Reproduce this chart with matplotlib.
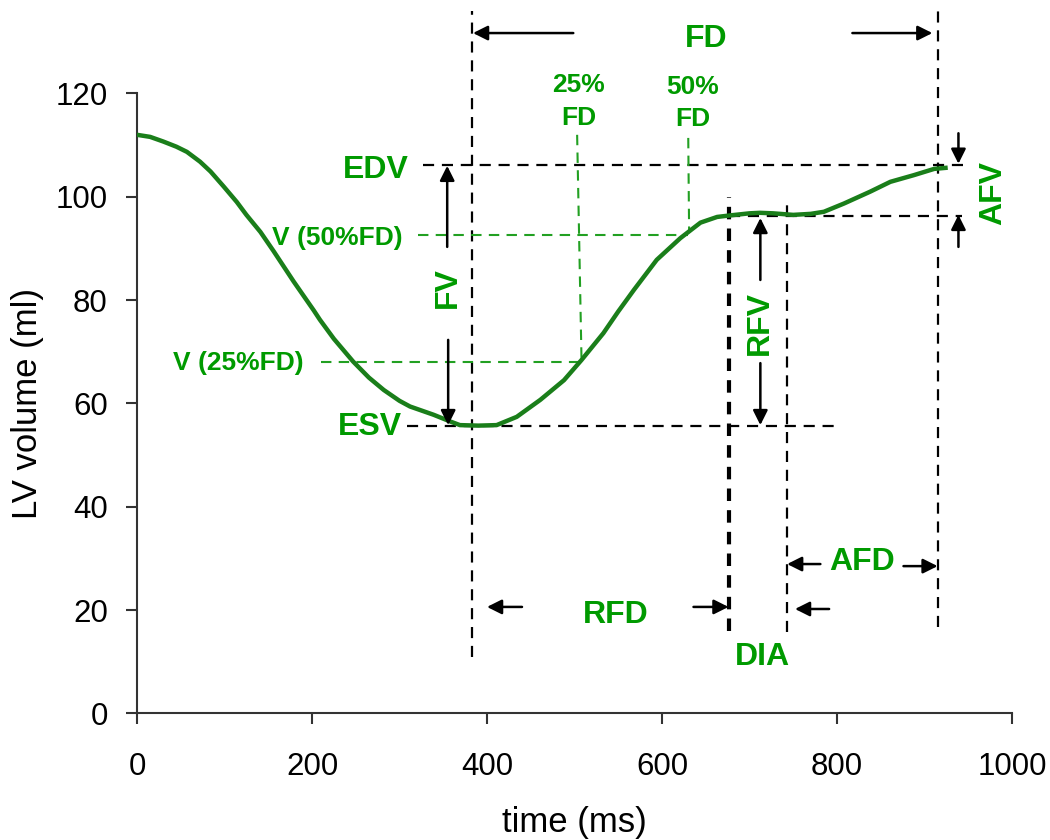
import numpy as np
import matplotlib
matplotlib.use("Agg")
import matplotlib.pyplot as plt

plt.rcParams['font.family'] = ['Liberation Sans', 'DejaVu Sans']

# LV volume curve
t_ms = [0, 15, 30, 45, 57, 72, 84, 99, 114, 125, 141, 156, 179, 202, 209,
        225, 247, 265, 282, 300, 312, 339, 358, 369, 390, 411, 434, 461, 488,
        508, 533, 550, 568, 594, 621, 644, 663, 678, 700, 712, 727, 750, 770,
        785, 808, 838, 861, 888, 911, 924]
lv_ml = [112.0, 111.6, 110.7, 109.7, 108.7, 106.8, 104.9, 102.0, 99.0, 96.5,
         93.2, 89.5, 83.6, 78.0, 76.2, 72.5, 68.1, 65.0, 62.6, 60.5, 59.4,
         57.8, 56.5, 55.8, 55.7, 55.8, 57.4, 60.7, 64.5, 68.4, 73.6, 77.8,
         82.0, 87.8, 92.0, 95.0, 96.1, 96.4, 96.8, 96.9, 96.8, 96.5, 96.7,
         97.1, 98.7, 101.0, 102.9, 104.2, 105.4, 105.6]

# key points of the filling phase
t_fd0, t_fd1 = 383, 915
t_rfd1, t_dia1 = 676, 743
t_25, t_50 = 505, 630
edv, esv, v_plat = 106.2, 55.6, 96.3
v_25, v_50 = 68.1, 92.6

green_txt = '#009a00'
green_line = '#1a7e1a'
green_dash = '#22a022'

fig = plt.figure(figsize=(10.5, 8.4), dpi=100)
ax = fig.add_axes([0.1305, 0.1508, 0.8333, 0.7379])
ax.plot(t_ms, lv_ml, color=green_line, lw=3.2, zorder=5)
ax.set_xlim(0, 1000)
ax.set_ylim(0, 120)
ax.set_xticks(range(0, 1001, 200))
ax.set_yticks(range(0, 121, 20))
for s in ['top', 'right']:
    ax.spines[s].set_visible(False)
for s in ['left', 'bottom']:
    ax.spines[s].set_color('#333333')
    ax.spines[s].set_linewidth(1.5)
ax.tick_params(axis='both', direction='out', length=8, width=1.5,
               color='#333333', labelsize=22.5)
ax.tick_params(axis='x', pad=20)
ax.tick_params(axis='y', pad=13)
ax.set_xlabel('time (ms)', fontsize=25, labelpad=17)
ax.set_ylabel('LV volume (ml)', fontsize=25, labelpad=8)

dk = dict(color='black', lw=1.6, ls=(0, (5, 3.5)), clip_on=False, zorder=3)
# vertical black dashed
ax.plot([t_fd0, t_fd0], [10.9, 136], **dk)
ax.plot([t_fd1, t_fd1], [16.8, 137], **dk)
ax.plot([t_dia1, t_dia1], [15.7, 99.6], **dk)
ax.plot([t_rfd1, t_rfd1], [16, 100], color='black', lw=3, ls=(0, (3, 2.2)),
        clip_on=False, zorder=3)
# horizontal black dashed
ax.plot([326.6, 950], [edv, edv], **dk)
ax.plot([t_rfd1, 943], [v_plat, v_plat], **dk)
ax.plot([309, 800], [esv, esv], **dk)

gd = dict(color=green_dash, lw=1.5, ls=(0, (5, 3.5)), zorder=3)
ax.plot([321, t_50], [v_50, v_50], **gd)
ax.plot([210, t_25 + 2], [v_25, v_25], **gd)
ax.plot([t_25 - 2, t_25 + 3], [112, 68.5], **gd)
ax.plot([t_50, t_50 + 1], [111.4, 93], **gd)

ap = dict(arrowstyle='-|>', color='black', lw=1.8, mutation_scale=22,
          shrinkA=0, shrinkB=0)


def arrow(x0, y0, x1, y1):
    ax.annotate('', xy=(x1, y1), xytext=(x0, y0), arrowprops=ap,
                annotation_clip=False, zorder=6)


# FD
arrow(498.6, 131.7, t_fd0 + 1, 131.7)
arrow(817.6, 131.7, t_fd1 - 6, 131.7)
# FV
arrow(354.5, 90.3, 354.5, edv - 0.2)
arrow(355.6, 72.3, 355.6, esv + 0.2)
# RFV
arrow(712.4, 83.9, 712.4, v_plat - 0.4)
arrow(712.4, 67.8, 712.4, esv + 0.2)
# AFV
arrow(938.8, 112.3, 938.8, edv + 0.2)
arrow(938.8, 90.3, 938.8, v_plat + 0.2)
# RFD
arrow(440, 20.6, 400, 20.6)
arrow(636, 20.6, t_rfd1, 20.6)
# AFD / DIA
arrow(781, 28.9, t_dia1, 28.9)
arrow(876, 28.5, t_fd1, 28.5)
arrow(791, 20.2, 752, 20.2)

bt = dict(color=green_txt, fontweight='bold', fontsize=23, clip_on=False,
          zorder=7)
st = dict(color=green_txt, fontweight='bold', fontsize=19, clip_on=False,
          zorder=7)
ax.text(650.5, 130.6, 'FD', ha='center', va='center', **bt)
ax.text(310, 105.2, 'EDV', ha='right', va='center', **bt)
ax.text(303, 55.4, 'ESV', ha='right', va='center', **bt)
ax.text(355.6, 82.5, 'FV', ha='center', va='center', rotation=90, **bt)
ax.text(712, 75.6, 'RFV', ha='center', va='center', rotation=90, **bt)
ax.text(978.8, 100.8, 'AFV', ha='center', va='center', rotation=90, **bt)
ax.text(546.6, 19.0, 'RFD', ha='center', va='center', **bt)
ax.text(714.7, 10.9, 'DIA', ha='center', va='center', **bt)
ax.text(829, 29.3, 'AFD', ha='center', va='center', **bt)
ax.text(303, 92.0, 'V (50%FD)', ha='right', va='center', **st)
ax.text(190, 67.8, 'V (25%FD)', ha='right', va='center', **st)
ax.text(t_25, 121.6, '25%', ha='center', va='center', **st)
ax.text(t_25, 115.3, 'FD', ha='center', va='center', **st)
ax.text(635.5, 121.3, '50%', ha='center', va='center', **st)
ax.text(635.5, 115.0, 'FD', ha='center', va='center', **st)

fig.savefig('out.png', dpi=100)
